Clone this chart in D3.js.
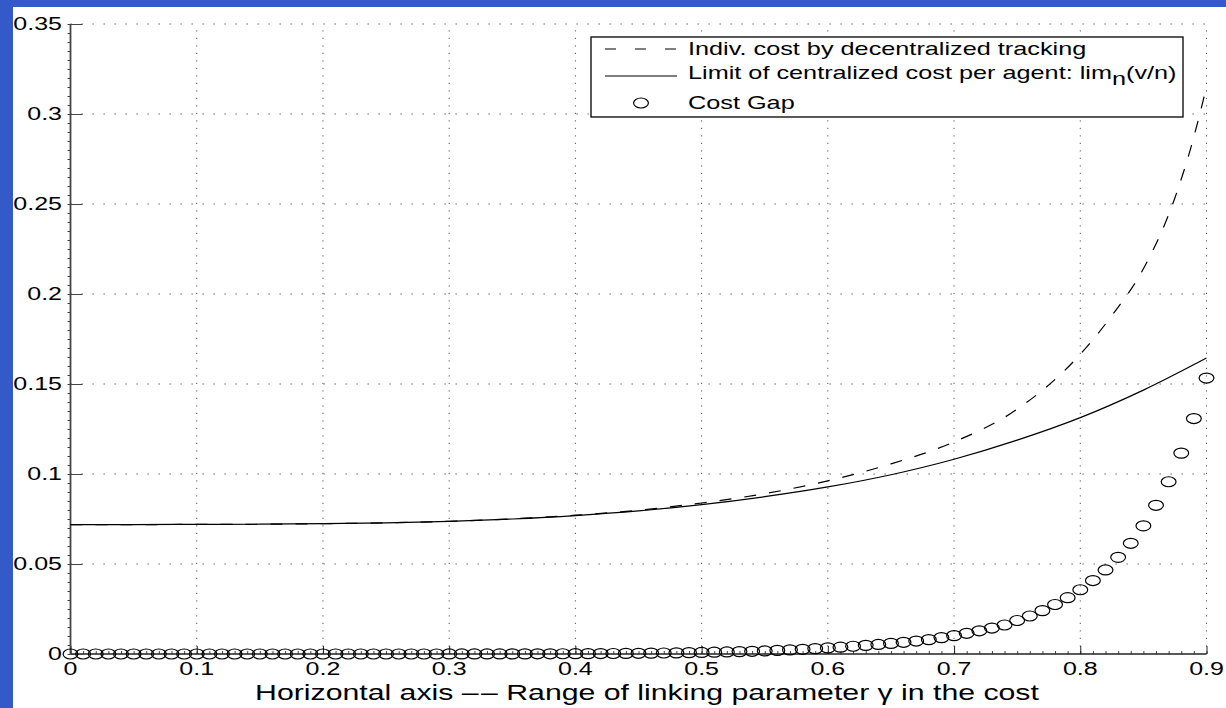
<!DOCTYPE html>
<html>
<head>
<meta charset="utf-8">
<script src="https://cdn.jsdelivr.net/npm/d3@7"></script>
<style>
  html, body { margin: 0; padding: 0; background: #335ac8; }
  svg { display: block; }
  text { font-family: "Liberation Sans", Arial, Helvetica, sans-serif; fill: #000; }
</style>
</head>
<body>
<svg id="chart" width="1226" height="708"></svg>
<script>
// Linking parameter values for the cost-gap markers (step 0.01)
const gapGamma = [
  0.00,0.01,0.02,0.03,0.04,0.05,0.06,0.07,0.08,0.09,
  0.10,0.11,0.12,0.13,0.14,0.15,0.16,0.17,0.18,0.19,
  0.20,0.21,0.22,0.23,0.24,0.25,0.26,0.27,0.28,0.29,
  0.30,0.31,0.32,0.33,0.34,0.35,0.36,0.37,0.38,0.39,
  0.40,0.41,0.42,0.43,0.44,0.45,0.46,0.47,0.48,0.49,
  0.50,0.51,0.52,0.53,0.54,0.55,0.56,0.57,0.58,0.59,
  0.60,0.61,0.62,0.63,0.64,0.65,0.66,0.67,0.68,0.69,
  0.70,0.71,0.72,0.73,0.74,0.75,0.76,0.77,0.78,0.79,
  0.80,0.81,0.82,0.83,0.84,0.85,0.86,0.87,0.88,0.89,
  0.90
];
// Cost gap between decentralized tracking and the centralized limit
const gapCost = [
  0,0,0,0,0,0,0,0,0,0,
  0,0,0,0,0,0,0,0,0,0,
  0,0,0,0,0,0,0,0,0,0,
  0.00002,0.00003,0.00003,0.00004,0.00005,0.00006,0.00008,0.00010,0.00012,0.00014,
  0.00017,0.00020,0.00024,0.00029,0.00034,0.00040,0.00047,0.00055,0.00064,0.00075,
  0.00087,0.00100,0.00115,0.00132,0.00150,0.00170,0.00200,0.00230,0.00260,0.00300,
  0.00340,0.00380,0.00430,0.00480,0.00530,0.00590,0.00650,0.00720,0.00800,0.00910,
  0.01020,0.01150,0.01290,0.01440,0.01610,0.01860,0.02110,0.02410,0.02750,0.03130,
  0.03570,0.04080,0.04670,0.05370,0.06150,0.07120,0.08260,0.09570,0.11160,0.13080,
  0.15330
];

// Limit of centralized cost per agent
const solidGamma = [0,0.05,0.1,0.15,0.2,0.25,0.3,0.35,0.4,0.45,0.5,0.55,0.6,0.65,0.7,0.75,0.8,0.85,0.9];
const solidCost  = [0.0719,0.0719,0.0720,0.0721,0.0724,0.0729,0.0737,0.0750,0.0769,0.0795,
                    0.0830,0.0874,0.0928,0.0996,0.1082,0.1188,0.1313,0.1466,0.1644];

// Individual cost under decentralized tracking
const dashedGamma = [0,0.05,0.1,0.15,0.2,0.25,0.3,0.35,0.4,0.45,0.5,0.55,0.6,0.65,0.7,0.75,0.8,0.825,0.85,0.875,0.8875,0.9];
const dashedCost  = [0.0719,0.0719,0.0720,0.0721,0.0724,0.0729,0.0737,0.0751,0.0771,0.0799,
                     0.0839,0.0891,0.0962,0.1056,0.1178,0.1360,0.1665,0.1880,0.2140,0.2535,0.2810,0.3150];

const xTicks = [0,0.1,0.2,0.3,0.4,0.5,0.6,0.7,0.8,0.9];
const xTickLabels = ["0","0.1","0.2","0.3","0.4","0.5","0.6","0.7","0.8","0.9"];
const yTicks = [0,0.05,0.1,0.15,0.2,0.25,0.3,0.35];
const yTickLabels = ["0","0.05","0.1","0.15","0.2","0.25","0.3","0.35"];

const legendLabels = [
  "Indiv. cost by decentralized tracking",
  "Limit of centralized cost per agent: lim",
  "Cost Gap"
];
const xTitle = "Horizontal axis \u2013\u200a\u2013 Range of linking parameter \u03b3 in the cost";

// ---- layout ----
const figW = 1226, figH = 708;
const plotL = 70.5, plotR = 1206.5, plotT = 24, plotB = 654;
const SX = 1.42;               // horizontal stretch of the figure's glyphs and markers

const svg = d3.select("#chart");

// white figure area with a blue margin at left and top
svg.append("rect").attr("x", 13).attr("y", 7).attr("width", figW - 13).attr("height", figH - 7).attr("fill", "#fff");

const x = d3.scaleLinear().domain([0, 0.9]).range([plotL, plotR]);
const y = d3.scaleLinear().domain([0, 0.35]).range([plotB, plotT]);

function label(g, px, py, str, anchor, size) {
  return g.append("text")
    .attr("transform", `translate(${px},${py}) scale(${SX},1)`)
    .attr("text-anchor", anchor)
    .style("font-size", size + "px")
    .text(str);
}

// dotted grid
const grid = svg.append("g").attr("stroke", "#555").attr("stroke-width", 1).attr("fill", "none");
grid.selectAll("line.h").data(yTicks.filter(d => d > 0)).join("line").attr("class", "h")
  .attr("x1", plotL).attr("x2", plotR)
  .attr("y1", d => y(d)).attr("y2", d => y(d))
  .attr("stroke-dasharray", "1.3,9.7");
grid.selectAll("line.v").data(xTicks.filter(d => d > 0)).join("line").attr("class", "v")
  .attr("y1", plotB).attr("y2", plotT)
  .attr("x1", d => x(d)).attr("x2", d => x(d))
  .attr("stroke-dasharray", "1.2,6.3");

// axes drawn with d3 axis generators; ticks point inward
const xAxis = d3.axisBottom(x).tickValues(xTicks).tickSize(-8).tickFormat("");
const yAxis = d3.axisLeft(y).tickValues(yTicks).tickSize(-12).tickFormat("");
const xMinor = d3.axisBottom(x).tickValues(d3.range(0, 0.9001, 0.01)).tickSize(-3).tickFormat("");
const yMinor = d3.axisLeft(y).tickValues(d3.range(0, 0.35001, 0.005)).tickSize(3).tickFormat("");

function styleAxis(g, color, width) {
  g.select(".domain").attr("stroke", color).attr("stroke-width", width);
  g.selectAll(".tick line").attr("stroke", color).attr("stroke-width", 1);
}
svg.append("g").attr("transform", `translate(0,${plotB})`).call(xMinor)
  .call(g => { g.select(".domain").remove(); g.selectAll(".tick line").attr("stroke", "#444"); });
svg.append("g").attr("transform", `translate(${plotL},0)`).call(yMinor)
  .call(g => { g.select(".domain").remove(); g.selectAll(".tick line").attr("stroke", "#444"); });
svg.append("g").attr("transform", `translate(0,${plotB})`).call(xAxis).call(g => styleAxis(g, "#222", 1.4))
  .call(g => g.select(".domain").attr("d", `M${plotL},0H${plotR}`));
svg.append("g").attr("transform", `translate(${plotL},0)`).call(yAxis).call(g => styleAxis(g, "#444", 1.8))
  .call(g => g.select(".domain").attr("d", `M0,${plotB}V${plotT}`));

// tick labels
const tl = svg.append("g");
xTicks.forEach((t, i) => label(tl, x(t), 675, xTickLabels[i], "middle", 17.6));
yTicks.forEach((t, i) => label(tl, 62, y(t) + 6, yTickLabels[i], "end", 17.6));

// axis title
label(svg, 647, 700, xTitle, "middle", 21.3);

// curves
const costLine = d3.line().x(d => x(d[0])).y(d => y(d[1])).curve(d3.curveMonotoneX);
svg.append("path")
  .datum(d3.zip(solidGamma, solidCost))
  .attr("d", costLine)
  .attr("fill", "none").attr("stroke", "#000").attr("stroke-width", 1.2);
svg.append("path")
  .datum(d3.zip(dashedGamma, dashedCost))
  .attr("d", costLine)
  .attr("fill", "none").attr("stroke", "#000").attr("stroke-width", 1.2)
  .attr("stroke-dasharray", "12,13");

// cost-gap markers
svg.append("g").selectAll("ellipse").data(d3.zip(gapGamma, gapCost)).join("ellipse")
  .attr("cx", d => x(d[0])).attr("cy", d => y(d[1]))
  .attr("rx", 7.4).attr("ry", 5)
  .attr("fill", "none").attr("stroke", "#000").attr("stroke-width", 1.2);

// legend
const lg = svg.append("g");
lg.append("rect").attr("x", 591).attr("y", 37).attr("width", 592).attr("height", 80)
  .attr("fill", "#fff").attr("stroke", "#000").attr("stroke-width", 1.3);
const rowY = [49, 76, 103];
lg.append("line").attr("x1", 605).attr("x2", 677).attr("y1", rowY[0]).attr("y2", rowY[0])
  .attr("stroke", "#000").attr("stroke-width", 1.2).attr("stroke-dasharray", "11,19");
lg.append("line").attr("x1", 605).attr("x2", 677).attr("y1", rowY[1]).attr("y2", rowY[1])
  .attr("stroke", "#000").attr("stroke-width", 1.2);
lg.append("ellipse").attr("cx", 641).attr("cy", rowY[2]).attr("rx", 7.4).attr("ry", 5)
  .attr("fill", "none").attr("stroke", "#000").attr("stroke-width", 1.2);
label(lg, 688, rowY[0] + 6, legendLabels[0], "start", 17.8);
const t2 = label(lg, 688, rowY[1] + 3, legendLabels[1], "start", 17.8);
t2.append("tspan").attr("dy", 6).text("n");
t2.append("tspan").attr("dy", -6).text("(v/n)");
label(lg, 688, rowY[2] + 6, legendLabels[2], "start", 17.8);
</script>
</body>
</html>
